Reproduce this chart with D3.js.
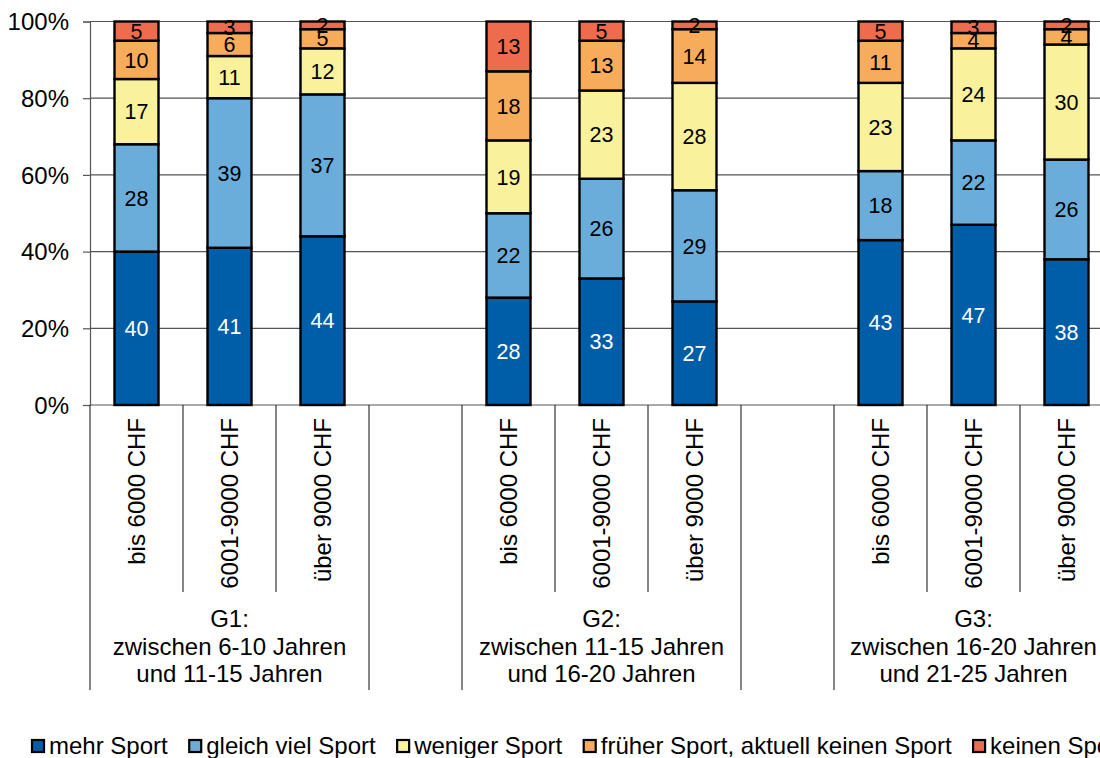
<!DOCTYPE html>
<html>
<head>
<meta charset="utf-8">
<script src="https://cdn.jsdelivr.net/npm/d3@7"></script>
<style>
  html, body { margin: 0; padding: 0; background: #fff; }
  svg { display: block; font-family: Arial, "Liberation Sans", sans-serif; }
</style>
</head>
<body>
<svg id="chart" width="1100" height="758"></svg>
<script>
// Age groups (second axis level) and income classes (first axis level)
const groupNames = ["G1", "G2", "G3"];
const groupLabels = [
  ["G1:", "zwischen 6-10 Jahren", "und 11-15 Jahren"],
  ["G2:", "zwischen 11-15 Jahren", "und 16-20 Jahren"],
  ["G3:", "zwischen 16-20 Jahren", "und 21-25 Jahren"]
];
const incomeClasses = ["bis 6000 CHF", "6001-9000 CHF", "über 9000 CHF"];

// Series names, in stacking order from the bottom
const seriesNames = ["mehr Sport", "gleich viel Sport", "weniger Sport",
                     "früher Sport, aktuell keinen Sport", "keinen Sport"];

// Percentages per bar: G1 (3 incomes), G2 (3 incomes), G3 (3 incomes)
const mehrSport      = [40, 41, 44, 28, 33, 27, 43, 47, 38];
const gleichViel     = [28, 39, 37, 22, 26, 29, 18, 22, 26];
const wenigerSport   = [17, 11, 12, 19, 23, 28, 23, 24, 30];
const frueherSport   = [10,  6,  5, 18, 13, 14, 11,  4,  4];
const keinenSport    = [ 5,  3,  2, 13,  5,  2,  5,  3,  2];

const yTicks = [0, 20, 40, 60, 80, 100];

(function () {
const seriesValues = [mehrSport, gleichViel, wenigerSport, frueherSport, keinenSport];
const colors = ["#005ea8", "#6badda", "#f9f19b", "#f7ac5b", "#ed6c4d"];
const labelColors = ["#fff", "#000", "#000", "#000", "#000"];

const svg = d3.select("#chart");
const FONT = 24;

// Slots along the category axis: three bars per group and an empty slot between groups
const slots = [];
groupNames.forEach((g, gi) => {
  incomeClasses.forEach((inc, ii) => slots.push({ key: g + "|" + inc, group: gi, income: ii, bar: gi * 3 + ii }));
  if (gi < groupNames.length - 1) slots.push({ key: "gap" + gi, group: null, income: null, bar: null });
});

const plotLeft = 90, plotTop = 21.5, plotBottom = 405;
const slotW = 93;
const x = d3.scaleBand().domain(slots.map(s => s.key)).range([plotLeft, plotLeft + slotW * slots.length]).padding(0);
const y = d3.scaleLinear().domain([0, 100]).range([plotBottom, plotTop]);
const barW = 44;

// Gridlines
svg.append("g")
  .selectAll("line")
  .data(yTicks)
  .join("line")
  .attr("x1", plotLeft).attr("x2", x.range()[1])
  .attr("y1", d => y(d)).attr("y2", d => y(d))
  .attr("stroke", "#555").attr("stroke-width", 1.2);

// Stacked bars
const barRows = mehrSport.map((_, i) => {
  const row = { bar: i };
  seriesNames.forEach((s, si) => row[s] = seriesValues[si][i]);
  return row;
});
const stacked = d3.stack().keys(seriesNames)(barRows);
const barSlots = slots.filter(s => s.bar !== null);
const barX = i => x(barSlots[i].key) + (x.bandwidth() - barW) / 2;

const layers = svg.append("g").selectAll("g")
  .data(stacked)
  .join("g")
  .attr("fill", (d, i) => colors[i]);

layers.selectAll("rect")
  .data(d => d)
  .join("rect")
  .attr("x", (d, i) => barX(i))
  .attr("width", barW)
  .attr("y", d => y(d[1]))
  .attr("height", d => y(d[0]) - y(d[1]))
  .attr("stroke", "#000")
  .attr("stroke-width", 2.4);

// Value labels centred in each segment
stacked.forEach((layer, si) => {
  svg.append("g").selectAll("text")
    .data(layer)
    .join("text")
    .attr("x", (d, i) => barX(i) + barW / 2)
    .attr("y", d => y((d[0] + d[1]) / 2))
    .attr("dy", "0.36em")
    .attr("text-anchor", "middle")
    .attr("font-size", 21.5)
    .attr("fill", labelColors[si])
    .text(d => d[1] - d[0]);
});

// Y axis
const yAxis = d3.axisLeft(y).tickValues(yTicks).tickFormat(d => d + "%").tickSize(7).tickPadding(14);
const yg = svg.append("g").attr("transform", `translate(${plotLeft},0)`).call(yAxis);
yg.select(".domain").attr("stroke", "#555").attr("stroke-width", 1.2);
yg.selectAll(".tick line").attr("stroke", "#555").attr("stroke-width", 1.2);
yg.selectAll(".tick text").attr("font-size", FONT).attr("fill", "#000")
  .attr("font-family", "Arial, 'Liberation Sans', sans-serif").attr("dy", "0.34em");

// Category axis: separators between income classes and between groups
const bounds = [];
slots.forEach((s, i) => {
  const x0 = x(s.key);
  const prev = slots[i - 1];
  const isGroupEdge = i === 0 || s.group === null || (prev && prev.group === null) || (prev && prev.group !== s.group);
  bounds.push({ x: x0, long: isGroupEdge });
});
bounds.push({ x: x.range()[1], long: true });

svg.append("g").selectAll("line")
  .data(bounds)
  .join("line")
  .attr("x1", d => d.x).attr("x2", d => d.x)
  .attr("y1", plotBottom).attr("y2", d => d.long ? 690 : 592)
  .attr("stroke", "#222").attr("stroke-width", 1.1);

// Income class labels, rotated
svg.append("g").selectAll("text")
  .data(barSlots)
  .join("text")
  .attr("transform", d => `translate(${x(d.key) + x.bandwidth() / 2},418) rotate(-90)`)
  .attr("text-anchor", "end")
  .attr("dy", "0.36em")
  .attr("font-size", FONT)
  .text(d => incomeClasses[d.income]);

// Group labels
groupNames.forEach((g, gi) => {
  const members = slots.filter(s => s.group === gi);
  const cx = (x(members[0].key) + x(members[members.length - 1].key) + x.bandwidth()) / 2;
  svg.append("text")
    .attr("x", cx).attr("y", 627)
    .attr("text-anchor", "middle")
    .attr("font-size", FONT)
    .selectAll("tspan")
    .data(groupLabels[gi])
    .join("tspan")
    .attr("x", cx)
    .attr("dy", (d, i) => i === 0 ? 0 : 27.5)
    .text(d => d);
});

// Legend
const legend = svg.append("g").attr("transform", "translate(31,0)");
let lx = 0;
seriesNames.forEach((name, i) => {
  const item = legend.append("g").attr("transform", `translate(${lx},0)`);
  item.append("rect")
    .attr("x", 1).attr("y", 740).attr("width", 12).attr("height", 12)
    .attr("fill", colors[i]).attr("stroke", "#000").attr("stroke-width", 2.2);
  const t = item.append("text")
    .attr("x", 18).attr("y", 754)
    .attr("font-size", FONT)
    .text(name);
  lx += 18 + t.node().getComputedTextLength() + 20.5;
});
})();
</script>
</body>
</html>
